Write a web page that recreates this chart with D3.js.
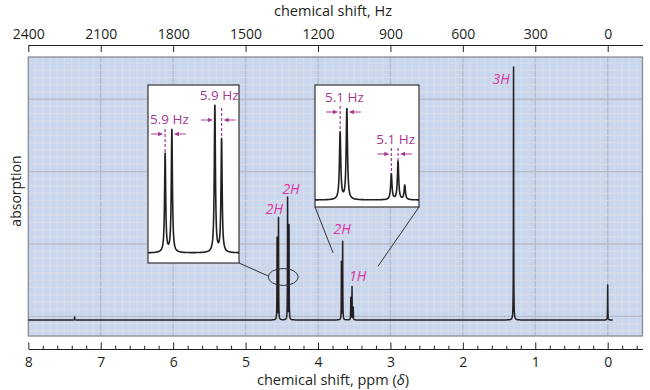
<!DOCTYPE html>
<html><head><meta charset="utf-8">
<script src="https://cdn.jsdelivr.net/npm/d3@7"></script>
<style>
body{margin:0;background:#fff}
svg{display:block}
text{font-family:"Open Sans","Noto Sans",sans-serif;fill:#231f20}
</style>
</head><body><svg id="c" width="650" height="390"></svg>
<script>
// ---------------- data ----------------
const ppmTicks = [8,7,6,5,4,3,2,1,0];
const hzTicks = [2400,2100,1800,1500,1200,900,600,300,0];
const peakPpm    = [7.36, 4.5648, 4.5452, 4.4198, 4.4002, 3.6765, 3.6595, 3.547, 3.530, 3.513, 1.300, 0.000];
const peakHeight = [1.2,  32.4,   40.3,   48.2,   37.2,   22.8,   30.8,   8.8,   13.0,  4.9,   100,   13.8];
const integralText = ["3H","2H","2H","2H","1H"];
const integralPpm  = [1.30, 4.555, 4.41, 3.668, 3.53];
const integralTop  = [100, 40.3, 48.2, 30.8, 13.0];
const couplingText = ["5.9 Hz","5.9 Hz","5.1 Hz","5.1 Hz"];
const couplingA    = [4.5648, 4.4198, 3.6765, 3.547];
const couplingB    = [4.5452, 4.4002, 3.6595, 3.530];
const couplingInset= [0,0,1,1];

// ---------------- layout ----------------
const svg = d3.select("#c");
const X0 = 28.3, XZ = 607.7;
const x = d3.scaleLinear().domain([8, 0]).range([X0, XZ]);
const y = d3.scaleLinear().domain([0, 100]).range([320, 67]);
const box = {x0: x(8), x1: x(-0.48), y0: 57, y1: 336};
const ink = "#231f20", mag = "#dc339f", magHz = "#a8388f";
const FONT = '"Open Sans","Noto Sans",sans-serif';
const LW = 0.6/300; // Lorentzian half width (ppm)

function intensity(p){let s=0;for(let i=0;i<peakPpm.length;i++){const d=p-peakPpm[i];s+=peakHeight[i]*LW*LW/(d*d+LW*LW);}return s;}
function sample(a,b,n){const pts=[];for(let i=0;i<=n;i++)pts.push(a+(b-a)*i/n);
  peakPpm.forEach(p=>{if(p<=Math.max(a,b)&&p>=Math.min(a,b))pts.push(p)});
  pts.sort((u,v)=>v-u);return pts.map(p=>[p,intensity(p)]);}

// background + grid
svg.append("rect").attr("x",box.x0).attr("y",box.y0).attr("width",box.x1-box.x0).attr("height",box.y1-box.y0).attr("fill","#c9d7ee");
const gy = d3.scaleLinear().domain([0,1]).range([316.4, 244]);
const g = svg.append("g");
for(let k=-4;k<=80;k++){const p=k/10; const xx=x(p); if(xx<=box.x0+0.5||xx>=box.x1-0.5)continue;
  const major = k%10===0;
  g.append("line").attr("x1",xx).attr("x2",xx).attr("y1",box.y0).attr("y2",box.y1)
   .attr("stroke",major?"#b8bcc8":"#dadde7").attr("stroke-width",major?1.4:1);}
for(let k=-2;k<=35;k++){const yy=gy(k/10); if(yy<=box.y0+0.5||yy>=box.y1-0.5)continue;
  const major = k%10===0;
  g.append("line").attr("x1",box.x0).attr("x2",box.x1).attr("y1",yy).attr("y2",yy)
   .attr("stroke",major?"#b8bcc8":"#dadde7").attr("stroke-width",major?1.4:1);}
svg.append("rect").attr("x",box.x0).attr("y",box.y0).attr("width",box.x1-box.x0).attr("height",box.y1-box.y0)
  .attr("fill","none").attr("stroke","#8c8c92").attr("stroke-width",1.3);

// main spectrum
const mainData = sample(8, -0.07, 16140);
svg.append("path").datum(mainData)
  .attr("d", d3.line().x(d=>x(d[0])).y(d=>y(d[1])))
  .attr("fill","none").attr("stroke",ink).attr("stroke-width",1.5).attr("stroke-linejoin","round");

// axes
const xHzAxisScale = d3.scaleLinear().domain([2400, -0.48*300]).range([X0, box.x1]);
svg.append("g").attr("transform","translate(0,45)")
  .call(d3.axisTop(xHzAxisScale).tickValues(hzTicks).tickSizeInner(-7).tickSizeOuter(0).tickPadding(6.5).tickFormat(d3.format("d")));
const xAxisScale = d3.scaleLinear().domain([8, -0.48]).range([X0, box.x1]);
svg.append("g").attr("transform","translate(0,349)")
  .call(d3.axisBottom(xAxisScale).tickValues(ppmTicks).tickSizeInner(-6.5).tickSizeOuter(0).tickPadding(8.5).tickFormat(d3.format("d")));
const minorT = d3.range(-4, 80, 2).filter(k=>k%10!==0).map(k=>k/10);
svg.append("g").attr("transform","translate(0,349)")
  .call(d3.axisBottom(xAxisScale).tickValues(minorT).tickSizeInner(-3.3).tickSizeOuter(0).tickFormat(""))
  .call(s=>s.select(".domain").remove());
svg.selectAll(".tick line, .domain").attr("stroke",ink).attr("stroke-width",1);
svg.selectAll(".tick text").attr("font-size",14).attr("fill",ink).attr("font-family",FONT);

svg.append("text").attr("x",333).attr("y",16).attr("text-anchor","middle").attr("font-size",14.5).text("chemical shift, Hz");
const bt = svg.append("text").attr("x",333).attr("y",385).attr("text-anchor","middle").attr("font-size",14.5);
bt.append("tspan").text("chemical shift, ppm (");
bt.append("tspan").attr("font-style","italic").text("δ");
bt.append("tspan").text(")");
svg.append("text").attr("transform","translate(21,191) rotate(-90)").attr("text-anchor","middle").attr("font-size",14).text("absorption");

// integration labels (layout offsets in px: dx, baseline offset from peak top)
const labelOff = [[-12.5,17],[-3.5,-4.5],[2.7,-4.5],[0,-8.5],[5.5,-6.5]];
integralText.forEach((t,i)=>{
  svg.append("text").attr("x",x(integralPpm[i])+labelOff[i][0]).attr("y",y(integralTop[i])+labelOff[i][1])
   .attr("text-anchor","middle").attr("font-size",14).attr("font-style","italic").style("fill",mag).text(t);
});

// ellipse + connectors
const ecx = x(4.48), ecy = y(17);
svg.append("ellipse").attr("cx",ecx).attr("cy",ecy).attr("rx",15).attr("ry",8.5)
  .attr("fill","none").attr("stroke","#333").attr("stroke-width",1);

const insets = [
  {x0:148, x1:239, y0:85, y1:263, dom:[4.6148,4.3494], base:253, k:3.04},
  {x0:315, x1:419, y0:85, y1:207, dom:[3.740,3.477], base:200, k:2.94}
];
const arrowY = [134,120,112,154];
const textRaise = [10,20,10,10];
const dashAbove = [5,12,6,6];
svg.append("line").attr("x1",insets[0].x1).attr("y1",insets[0].y1).attr("x2",ecx-15).attr("y2",ecy-1).attr("stroke","#333");
svg.append("line").attr("x1",insets[1].x0).attr("y1",insets[1].y1).attr("x2",x(3.791)).attr("y2",y(26.5)).attr("stroke","#333");
svg.append("line").attr("x1",insets[1].x1).attr("y1",insets[1].y1).attr("x2",x(3.17)).attr("y2",y(21.3)).attr("stroke","#333");

insets.forEach((b,j)=>{
  b.xs = d3.scaleLinear().domain(b.dom).range([b.x0,b.x1]);
  b.ys = d3.scaleLinear().domain([0,100]).range([b.base, b.base-100*b.k]);
  svg.append("rect").attr("x",b.x0).attr("y",b.y0).attr("width",b.x1-b.x0).attr("height",b.y1-b.y0)
    .attr("fill","#fff").attr("stroke","#333").attr("stroke-width",1.2);
  const cid="clip"+j;
  svg.append("clipPath").attr("id",cid).append("rect").attr("x",b.x0).attr("y",b.y0).attr("width",b.x1-b.x0).attr("height",b.y1-b.y0);
  svg.append("path").datum(sample(b.dom[0], b.dom[1], 3000)).attr("clip-path",`url(#${cid})`)
    .attr("d", d3.line().x(d=>b.xs(d[0])).y(d=>b.ys(d[1])))
    .attr("fill","none").attr("stroke",ink).attr("stroke-width",1.6).attr("stroke-linejoin","round");
});

function arrowHead(xt, yy, dir){ // dir +1 points right
  return `M${xt},${yy} L${xt-dir*5},${yy-2.3} L${xt-dir*5},${yy+2.3} Z`;
}
couplingText.forEach((t,i)=>{
  const b = insets[couplingInset[i]];
  const xa = b.xs(couplingA[i]), xb = b.xs(couplingB[i]), ay = arrowY[i];
  [couplingA[i], couplingB[i]].forEach(p=>{
    const top = b.ys(intensity(p));
    if(top > ay - 2){
      svg.append("line").attr("x1",b.xs(p)).attr("x2",b.xs(p)).attr("y1",ay-dashAbove[i]).attr("y2",top)
        .attr("stroke",magHz).attr("stroke-width",1.2).attr("stroke-dasharray","3,2");
    }
  });
  svg.append("line").attr("x1",xa-14).attr("x2",xa-6).attr("y1",ay).attr("y2",ay).attr("stroke",magHz).attr("stroke-width",1);
  svg.append("path").attr("d",arrowHead(xa-2,ay,1)).attr("fill",magHz);
  svg.append("line").attr("x1",xb+14).attr("x2",xb+6).attr("y1",ay).attr("y2",ay).attr("stroke",magHz).attr("stroke-width",1);
  svg.append("path").attr("d",arrowHead(xb+2,ay,-1)).attr("fill",magHz);
  svg.append("text").attr("x",(xa+xb)/2+1).attr("y",ay-textRaise[i]).attr("text-anchor","middle")
    .attr("font-size",13.5).style("fill",magHz).text(t);
});
</script>
</body></html>
